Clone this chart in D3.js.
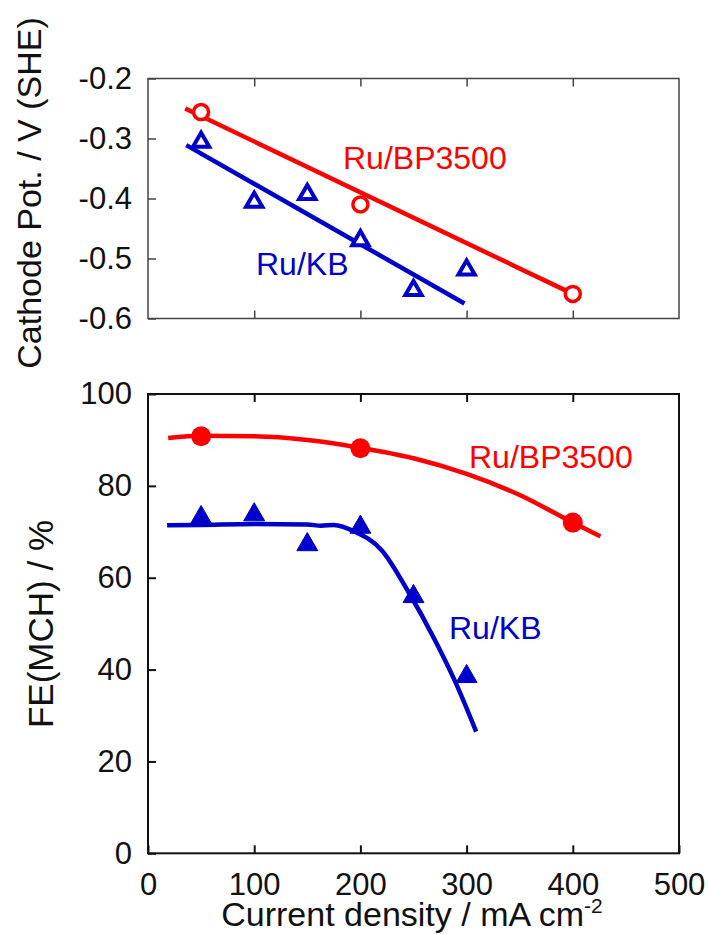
<!DOCTYPE html>
<html>
<head>
<meta charset="utf-8">
<script src="https://cdn.jsdelivr.net/npm/d3@7"></script>
<style>
  body { margin: 0; background: #fff; }
  svg { display: block; font-family: 'Liberation Sans', Arial, Helvetica, sans-serif; }
</style>
</head>
<body>
<div id="chart"></div>
<script>
// shared x axis (current density, mA cm-2)
const xTicks = [0, 100, 200, 300, 400, 500]
const xInnerTicks = [100, 200, 300, 400]

// top panel: cathode potential / V (SHE)
const potTicks = [-0.2, -0.3, -0.4, -0.5, -0.6]
const potKBDensity = [50, 100, 150, 200, 250, 300]
const potKB = [-0.306, -0.406, -0.393, -0.47, -0.553, -0.519]
const potBPDensity = [50, 200, 400]
const potBP = [-0.256, -0.41, -0.559]
const fitKBDensity = [36, 298]
const fitKB = [-0.311, -0.575]
const fitBPDensity = [35, 400]
const fitBP = [-0.25, -0.559]

// bottom panel: FE(MCH) / %
const feTicks = [0, 20, 40, 60, 80, 100]
const feKBDensity = [50, 100, 150, 200, 250, 300]
const feKB = [73.1, 73.7, 67.2, 71.0, 55.9, 38.5]
const feBPDensity = [50, 200, 400]
const feBP = [90.8, 88.2, 72.0]
const curveBPDensity = [19, 50, 100, 150, 200, 250, 300, 350, 400, 426]
const curveBP = [90.4, 90.9, 90.8, 90.0, 88.3, 86.0, 82.6, 78.0, 72.0, 69.0]
const curveKBDensity = [18, 50, 100, 150, 163, 175, 195, 220, 245, 270, 290, 309]
const curveKB = [71.4, 71.5, 71.7, 71.6, 71.3, 71.5, 70.0, 66.0, 57.0, 46.5, 37.0, 26.5]

const RED = '#ff0000'
const BLUE = '#0000cc'

const svg = d3.select('#chart')
  .append('svg')
  .attr('width', 708)
  .attr('height', 934)

svg.append('rect')
  .attr('width', 708)
  .attr('height', 934)
  .attr('fill', '#fff')

const x = d3.scaleLinear().domain([0, 500]).range([148, 679])
const yPot = d3.scaleLinear().domain([-0.6, -0.2]).range([318.5, 78.5])
const yFE = d3.scaleLinear().domain([0, 100]).range([853.3, 394])

/**
 * Zips two arrays into [x, y] pairs.
 *
 * @param {number[]} xs The x values
 * @param {number[]} ys The y values
 * @returns {Array[]} The pairs
 */
function zip (xs, ys) {
  return xs.map((d, i) => [d, ys[i]])
}

/**
 * Draws the frame and the inward ticks of one panel.
 *
 * @param {*} y The y scale of the panel
 * @param {number[]} yTicks The y tick values
 * @param {Function} yFormat The y tick label format
 * @param {boolean} xLabels Whether the bottom axis gets labels
 * @param {string} color The frame colour
 * @param {number} width The frame stroke width
 */
function drawFrame (y, yTicks, yFormat, xLabels, color, width) {
  const g = svg.append('g')
  const [x0, x1] = x.range()
  const [yb, yt] = y.range()

  const left = g.append('g')
    .attr('transform', 'translate(' + x0 + ',0)')
    .call(d3.axisLeft(y).tickValues(yTicks).tickFormat(yFormat)
      .tickSize(-8).tickPadding(16))

  const top = g.append('g')
    .attr('transform', 'translate(0,' + yt + ')')
    .call(d3.axisTop(x).tickValues(xInnerTicks).tickFormat('').tickSize(-8))

  const bottom = g.append('g')
    .attr('transform', 'translate(0,' + yb + ')')
    .call(d3.axisBottom(x).tickValues(xLabels ? xTicks : xInnerTicks)
      .tickFormat(xLabels ? d3.format('d') : '')
      .tickSize(-8).tickPadding(20))

  for (const a of [left, top, bottom]) {
    a.select('.domain').remove()
    a.selectAll('line').attr('stroke', color).attr('stroke-width', width)
    a.selectAll('text')
      .attr('font-family', null)
      .attr('font-size', 31)
      .attr('fill', '#111')
  }

  g.append('rect')
    .attr('x', x0)
    .attr('y', yt)
    .attr('width', x1 - x0)
    .attr('height', yb - yt)
    .attr('fill', 'none')
    .attr('stroke', color)
    .attr('stroke-width', width)
}

/**
 * Appends a text label.
 *
 * @param {string} text The label
 * @param {number} px The x position
 * @param {number} py The baseline position
 * @param {string} color The fill colour
 * @param {number} size The font size
 * @returns {*} The d3 Selection of the text
 */
function label (text, px, py, color, size) {
  return svg.append('text')
    .attr('x', px)
    .attr('y', py)
    .attr('fill', color)
    .attr('font-size', size)
    .text(text)
}

// ---- top panel
drawFrame(yPot, potTicks, d => d.toFixed(1), false, '#444', 1.5)

const lineTop = d3.line().x(d => x(d[0])).y(d => yPot(d[1]))

svg.append('path')
  .datum(zip(fitBPDensity, fitBP))
  .attr('d', lineTop)
  .attr('fill', 'none')
  .attr('stroke', RED)
  .attr('stroke-width', 4.5)

svg.append('path')
  .datum(zip(fitKBDensity, fitKB))
  .attr('d', lineTop)
  .attr('fill', 'none')
  .attr('stroke', BLUE)
  .attr('stroke-width', 4.5)

svg.append('g')
  .selectAll('path')
  .data(zip(potKBDensity, potKB))
  .enter()
  .append('path')
  .attr('transform', d => 'translate(' + x(d[0]) + ',' + yPot(d[1]) + ')')
  .attr('d', d3.symbol(d3.symbolTriangle, 115))
  .attr('fill', '#fff')
  .attr('stroke', BLUE)
  .attr('stroke-width', 4)

svg.append('g')
  .selectAll('circle')
  .data(zip(potBPDensity, potBP))
  .enter()
  .append('circle')
  .attr('cx', d => x(d[0]))
  .attr('cy', d => yPot(d[1]))
  .attr('r', 7.5)
  .attr('fill', '#fff')
  .attr('stroke', RED)
  .attr('stroke-width', 3.5)

label('Ru/BP3500', 343, 169, RED, 32)
label('Ru/KB', 256, 275, BLUE, 32)

// ---- bottom panel
drawFrame(yFE, feTicks, d3.format('d'), true, '#111', 2)

const curve = d3.line()
  .x(d => x(d[0]))
  .y(d => yFE(d[1]))
  .curve(d3.curveMonotoneX)

svg.append('path')
  .datum(zip(curveBPDensity, curveBP))
  .attr('d', curve)
  .attr('fill', 'none')
  .attr('stroke', RED)
  .attr('stroke-width', 4.5)

svg.append('path')
  .datum(zip(curveKBDensity, curveKB))
  .attr('d', curve)
  .attr('fill', 'none')
  .attr('stroke', BLUE)
  .attr('stroke-width', 4.5)

svg.append('g')
  .selectAll('circle')
  .data(zip(feBPDensity, feBP))
  .enter()
  .append('circle')
  .attr('cx', d => x(d[0]))
  .attr('cy', d => yFE(d[1]))
  .attr('r', 10)
  .attr('fill', RED)

svg.append('g')
  .selectAll('path')
  .data(zip(feKBDensity, feKB))
  .enter()
  .append('path')
  .attr('transform', d => 'translate(' + x(d[0]) + ',' + yFE(d[1]) + ')')
  .attr('d', d3.symbol(d3.symbolTriangle, 190))
  .attr('fill', BLUE)
  .attr('stroke', BLUE)
  .attr('stroke-width', 1)
  .attr('stroke-linejoin', 'round')

label('Ru/BP3500', 469, 468, RED, 32)
label('Ru/KB', 449, 639, BLUE, 32)

// ---- axis titles
label('Cathode Pot. / V (SHE)', 0, 0, '#111', 34)
  .attr('text-anchor', 'middle')
  .attr('transform', 'translate(41,193) rotate(-90)')

label('FE(MCH) / %', 0, 0, '#111', 35)
  .attr('text-anchor', 'middle')
  .attr('transform', 'translate(53,624) rotate(-90)')

const xTitle = label('Current density / mA cm', 412, 926, '#111', 34)
  .attr('text-anchor', 'middle')
xTitle.append('tspan')
  .attr('font-size', 21)
  .attr('dy', -13)
  .text('-2')
</script>
</body>
</html>
